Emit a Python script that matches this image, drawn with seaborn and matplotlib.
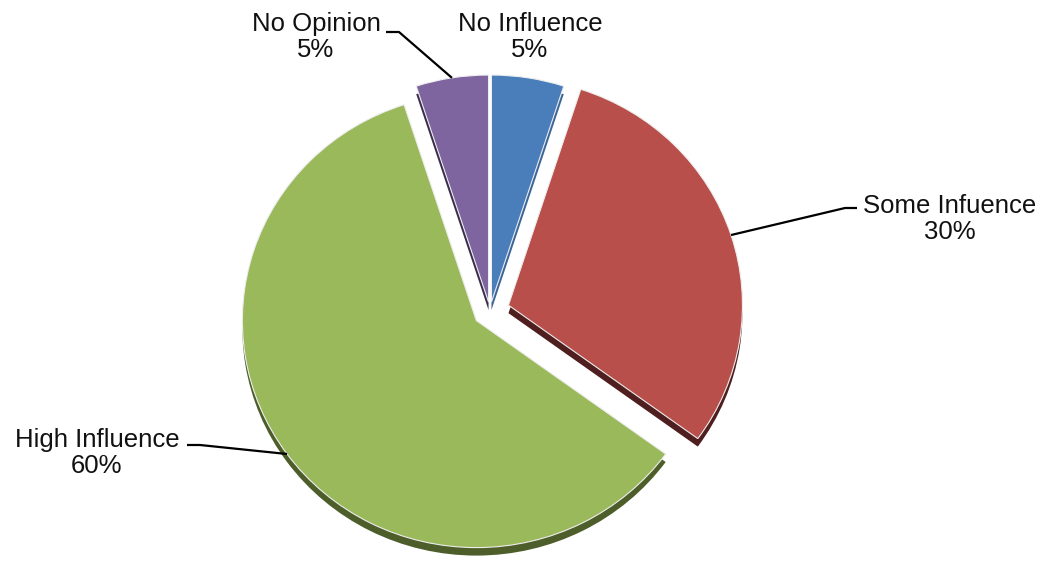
import numpy as np
import matplotlib
matplotlib.use("Agg")
import matplotlib.pyplot as plt
import seaborn as sns

# Survey shares, clockwise from 12 o'clock
categories = ["No Influence", "Some Infuence", "High Influence", "No Opinion"]
shares = [5, 30, 60, 5]
top_colors = ["#4A7EBB", "#B84F4B", "#9AB95B", "#7F65A0"]
side_colors = ["#3B669A", "#4F1E1E", "#4E5E2A", "#3A2E4C"]
explode_frac = [0.04, 0.083, 0.072, 0.04]

sns.set_theme(style="white")
plt.rcParams["font.family"] = ["Liberation Sans", "DejaVu Sans"]

W, H = 1046, 561
SY = 0.97          # vertical squash of the tilted pie
fig = plt.figure(figsize=(W / 100, H / 100), dpi=100)
ax = fig.add_axes([0, 0, 1, 1])


def px(x, y):
    """Pixel position (from top-left) to data coordinates."""
    return x, (H - y) / SY


R = 234
cx, cy = px(490, 311)
depth = 8 / SY
explode = [f * R for f in explode_frac]   # pie offsets are in data units

# side (depth) layer, shifted down
ax.pie(shares, explode=explode, colors=side_colors, startangle=90,
       counterclock=False, radius=R, center=(cx, cy - depth),
       wedgeprops=dict(linewidth=0), frame=True)
# top faces
wedges, _ = ax.pie(shares, explode=explode, colors=top_colors, startangle=90,
                   counterclock=False, radius=R, center=(cx, cy),
                   wedgeprops=dict(linewidth=0.8, edgecolor="#EDEDED"), frame=True)

ax.set_xlim(0, W)
ax.set_ylim(0, H / SY)
ax.set_aspect("auto")
ax.axis("off")


def rim_point(w):
    mid = np.deg2rad((w.theta1 + w.theta2) / 2)
    x0, y0 = w.center
    return x0 + w.r * np.cos(mid), y0 + w.r * np.sin(mid)


label_pos = {
    "No Influence": (530, 37),
    "Some Infuence": (950, 219),
    "High Influence": (97, 453),
    "No Opinion": (316, 37),
}
for cat, val in zip(categories, shares):
    tx, ty = px(*label_pos[cat])
    ax.text(tx, ty, f"{cat}\n{val}%", ha="center", va="center",
            fontsize=18.5, color="#111111", linespacing=1.15)

lw = 1.6
# leader lines: short horizontal stub then to the slice rim
w_no_op = wedges[3]
ex, ey = rim_point(w_no_op)
sx, sy = px(386, 32)
kx, ky = px(399, 32)
ax.plot([sx, kx, ex], [sy, ky, ey], color="black", lw=lw, solid_capstyle="butt")

w_some = wedges[1]
ex, ey = rim_point(w_some)
sx, sy = px(857, 208)
kx, ky = px(845, 208)
ax.plot([sx, kx, ex], [sy, ky, ey], color="black", lw=lw, solid_capstyle="butt")

w_high = wedges[2]
ex, ey = rim_point(w_high)
sx, sy = px(187, 445)
kx, ky = px(200, 445)
ax.plot([sx, kx, ex], [sy, ky, ey], color="black", lw=lw, solid_capstyle="butt")

fig.savefig("out.png", dpi=100, facecolor="white")
